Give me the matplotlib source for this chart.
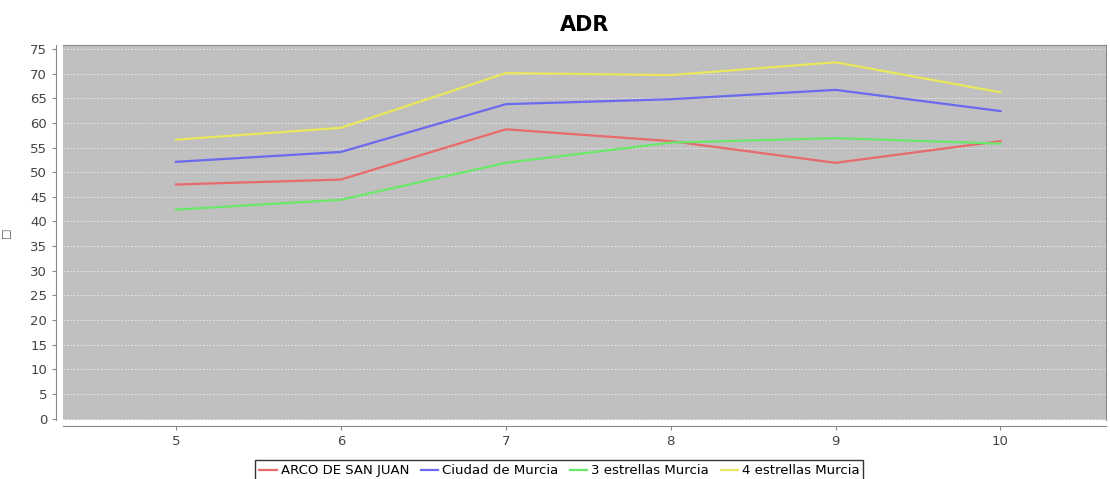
import matplotlib
matplotlib.use('Agg')
import matplotlib.pyplot as plt

months = [5, 6, 7, 8, 9, 10]
arco = [47.5, 48.5, 58.7, 56.3, 51.9, 56.3]
ciudad = [52.1, 54.1, 63.8, 64.8, 66.7, 62.4]
tres = [42.4, 44.4, 51.9, 56.0, 56.9, 55.8]
cuatro = [56.6, 59.0, 70.1, 69.7, 72.3, 66.2]
names = ['ARCO DE SAN JUAN', 'Ciudad de Murcia', '3 estrellas Murcia', '4 estrellas Murcia']
colors = ['#e86a6a', '#6a6aee', '#6ae86a', '#e8e85a']

fig = plt.figure(figsize=(11.1, 4.79), dpi=100)
ax = fig.add_axes([0.0568, 0.123, 0.9396, 0.783])
ax.set_facecolor('#c0c0c0')

for vals, name, c in zip([arco, ciudad, tres, cuatro], names, colors):
    ax.plot(months, vals, color=c, lw=1.6, label=name)

ax.set_xlim(4.315, 10.64)
ax.set_ylim(-0.3, 75.8)
ax.set_yticks(range(0, 80, 5))
ax.set_xticks(months)
ax.grid(axis='y', color='#ececec', ls=(0, (1.5, 2)), lw=0.7)
ax.set_axisbelow(True)

for s in ['top', 'right']:
    ax.spines[s].set_color('#888888')
ax.spines['left'].set_position(('outward', 5))
ax.spines['bottom'].set_position(('outward', 4))
ax.spines['left'].set_color('#888888')
ax.spines['bottom'].set_color('#888888')
ax.tick_params(colors='#888888', labelcolor='#444444', labelsize=9.5, length=3)

ax.set_title('ADR', fontsize=15, fontweight='bold', pad=10)
ax.set_ylabel('\u25a1', fontsize=8, color='#555555', labelpad=14)

leg = fig.legend(loc='upper center', bbox_to_anchor=(0.504, 0.053), ncol=4,
                 frameon=True, fancybox=False, fontsize=9.5, handlelength=1.3,
                 handletextpad=0.3, columnspacing=0.9, borderpad=0.3)
leg.get_frame().set_edgecolor('black')
leg.get_frame().set_linewidth(1)

fig.savefig('out.png', dpi=100)
